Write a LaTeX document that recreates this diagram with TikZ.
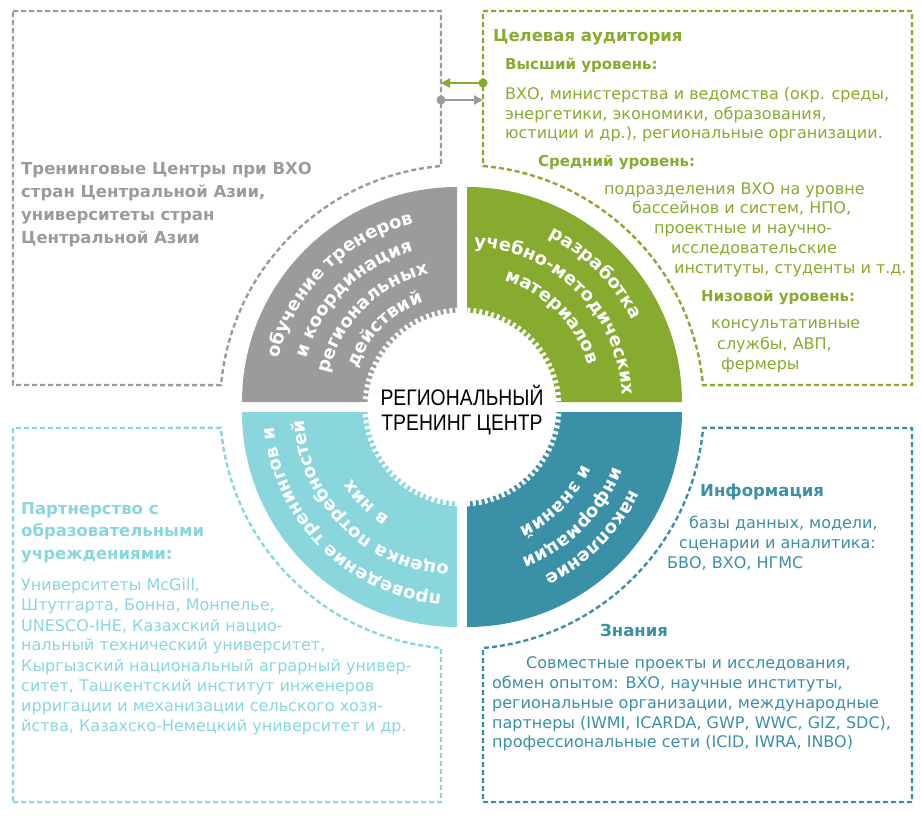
\documentclass[tikz,border=0pt]{standalone}
\usepackage{fontspec}
\setmainfont{DejaVu Sans}
\newfontfamily\hubfont[FakeStretch=0.86]{Liberation Sans}
\usetikzlibrary{arrows.meta,decorations.text}

\definecolor{trgray}{RGB}{155,155,155}
\definecolor{trgreen}{RGB}{134,171,46}
\definecolor{trcyan}{RGB}{137,214,220}
\definecolor{trteal}{RGB}{58,144,166}

\newcommand\ringtext[5]{%
  \path[decorate,decoration={text along path,text align=center,text color=white,
    text={|\fontsize{18}{18}\selectfont\bfseries|#5}}]
    ([shift={(#2:#4)}]#1) arc[start angle=#2,end angle=#3,radius=#4];}

\tikzset{
  outline/.style={dash pattern=on 5pt off 3pt, line width=2.4pt},
  body/.style={anchor=base west, inner sep=0pt, font=\fontsize{16}{18}\selectfont},
  subhead/.style={body, font=\fontsize{15}{18}\selectfont\bfseries},
  head/.style={body, font=\fontsize{16.5}{20}\selectfont\bfseries},
  hub/.style={anchor=base, inner sep=0pt, font=\hubfont\fontsize{22.5}{26}\selectfont}
}

\begin{document}
\begin{tikzpicture}[x=1pt,y=1pt]
\useasboundingbox (0,0) rectangle (922,-815);

\coordinate (c) at (462,-407);
\coordinate (qgray) at (457,-402);
\coordinate (qgreen) at (467,-402);
\coordinate (qcyan) at (457,-412);
\coordinate (qteal) at (467,-412);

\draw[outline, trgray] (13,-11) -- (441,-11) -- (441,-166) arc[start angle=94.98,end angle=174.78,radius=242] -- (13,-385) -- cycle;
\draw[outline, trgreen] (912,-11) -- (483,-11) -- (483,-166) arc[start angle=85.02,end angle=5.22,radius=242] -- (912,-385) -- cycle;
\draw[outline, trcyan] (13,-802) -- (441,-802) -- (441,-648) arc[start angle=-94.98,end angle=-175.02,radius=242] -- (13,-428) -- cycle;
\draw[outline, trteal] (912,-802) -- (483,-802) -- (483,-648) arc[start angle=-85.02,end angle=-4.98,radius=242] -- (912,-428) -- cycle;

\fill[trgray] (qgray) -- ++(-215,0) arc[start angle=180,end angle=90,radius=215] -- cycle;
\fill[trgreen] (qgreen) -- ++(0,215) arc[start angle=90,end angle=0,radius=215] -- cycle;
\fill[trcyan] (qcyan) -- ++(0,-215) arc[start angle=270,end angle=180,radius=215] -- cycle;
\fill[trteal] (qteal) -- ++(215,0) arc[start angle=0,end angle=-90,radius=215] -- cycle;

\fill[white] (c) circle[radius=94.5];
\draw[white, line width=5pt, dash pattern=on 3pt off 3pt] (c) circle[radius=97];

\ringtext{qgray}{180}{90}{184}{обучение тренеров}
\ringtext{qgray}{180}{90}{157}{и координация}
\ringtext{qgray}{180}{90}{131}{региональных}
\ringtext{qgray}{180}{90}{105}{действий}
\ringtext{qgreen}{90}{0}{184}{разработка}
\ringtext{qgreen}{90}{0}{155}{учебно-методических}
\ringtext{qgreen}{90}{0}{127}{материалов}
\ringtext{qcyan}{270}{180}{183}{проведение тренингов и}
\ringtext{qcyan}{270}{180}{153}{оценка потребностей}
\ringtext{qcyan}{270}{180}{125}{в них}
\ringtext{qteal}{0}{-90}{181}{накопление}
\ringtext{qteal}{0}{-90}{156}{информации}
\ringtext{qteal}{0}{-90}{127}{и знаний}

\node[hub] (hubtop) at (462,-405) {РЕГИОНАЛЬНЫЙ};
\node[hub] (hubbot) at (462,-430.5) {ТРЕНИНГ ЦЕНТР};

\coordinate (gdot) at (483,-83);
\coordinate (gtip) at (441,-83);
\coordinate (tdot) at (441,-100);
\coordinate (ttip) at (483,-100);
\draw[trgreen, line width=2.5pt, -{Triangle[length=9pt,width=9pt]}] (gdot) -- (gtip);
\fill[trgreen] (gdot) circle[radius=4.5];
\draw[trgray, line width=2.5pt, -{Triangle[length=9pt,width=9pt]}] (tdot) -- (ttip);
\fill[trgray] (tdot) circle[radius=4.5];

\foreach \y/\t [count=\i] in {174/{Тренинговые Центры при ВХО}, 197/{стран Центральной Азии,}, 220/{университеты стран}, 243/{Центральной Азии}}
  \node[head, text=trgray] (centres\i) at (21,-\y) {\t};

\node[head, text=trgreen] (target) at (493,-41.7) {Целевая аудитория};
\node[subhead, text=trgreen] (high) at (505,-69.3) {Высший уровень:};
\foreach \y/\t [count=\i] in {99/{ВХО, министерства и ведомства (окр. среды,}, 119/{энергетики, экономики, образования,}, 138.3/{юстиции и др.), региональные организации.}}
  \node[body, text=trgreen] (high\i) at (505,-\y) {\t};
\node[subhead, text=trgreen] (mid) at (538,-166) {Средний уровень:};
\foreach \x/\y/\t [count=\i] in {604/194/{подразделения ВХО на уровне}, 632/213.3/{бассейнов и систем, НПО,}, 654/233.3/{проектные и научно-}, 671/253.3/{исследовательские}, 674/273.3/{институты, студенты и т.д.}}
  \node[body, text=trgreen] (mid\i) at (\x,-\y) {\t};
\node[subhead, text=trgreen] (low) at (701,-301.7) {Низовой уровень:};
\foreach \x/\y/\t [count=\i] in {711/328.3/{консультативные}, 717/349/{службы, АВП,}, 721/369.3/{фермеры}}
  \node[body, text=trgreen] (low\i) at (\x,-\y) {\t};

\foreach \y/\t [count=\i] in {514/{Партнерство с}, 536.7/{образовательными}, 559.3/{учреждениями:}}
  \node[head, text=trcyan] (partner\i) at (21,-\y) {\t};
\foreach \y/\t [count=\i] in {590/{Университеты McGill,}, 610/{Штутгарта, Бонна, Монпелье,}, 631/{UNESCO-IHE, Казахский нацио-}, 650.7/{нальный технический университет,}, 671/{Кыргызский национальный аграрный универ-}, 691/{ситет, Ташкентский институт инженеров}, 711.7/{ирригации и механизации сельского хозя-}, 731.7/{йства, Казахско-Немецкий университет и др.}}
  \node[body, text=trcyan] (uni\i) at (21,-\y) {\t};

\node[head, text=trteal] (info) at (700,-496.7) {Информация};
\foreach \x/\y/\t [count=\i] in {689/528.3/{базы данных, модели,}, 679/548.3/{сценарии и аналитика:}, 667/568.3/{БВО, ВХО, НГМС}}
  \node[body, text=trteal] (info\i) at (\x,-\y) {\t};
\node[head, text=trteal] (know) at (600,-636) {Знания};
\foreach \x/\y/\t [count=\i] in {526/668.3/{Совместные проекты и исследования,}, 492/688.3/{обмен опытом: ВХО, научные институты,}, 492/708.3/{региональные организации, международные}, 492/728.3/{партнеры (IWMI, ICARDA, GWP, WWC, GIZ, SDC),}, 492/747.7/{профессиональные сети (ICID, IWRA, INBO)}}
  \node[body, text=trteal] (know\i) at (\x,-\y) {\t};
\end{tikzpicture}
\end{document}
